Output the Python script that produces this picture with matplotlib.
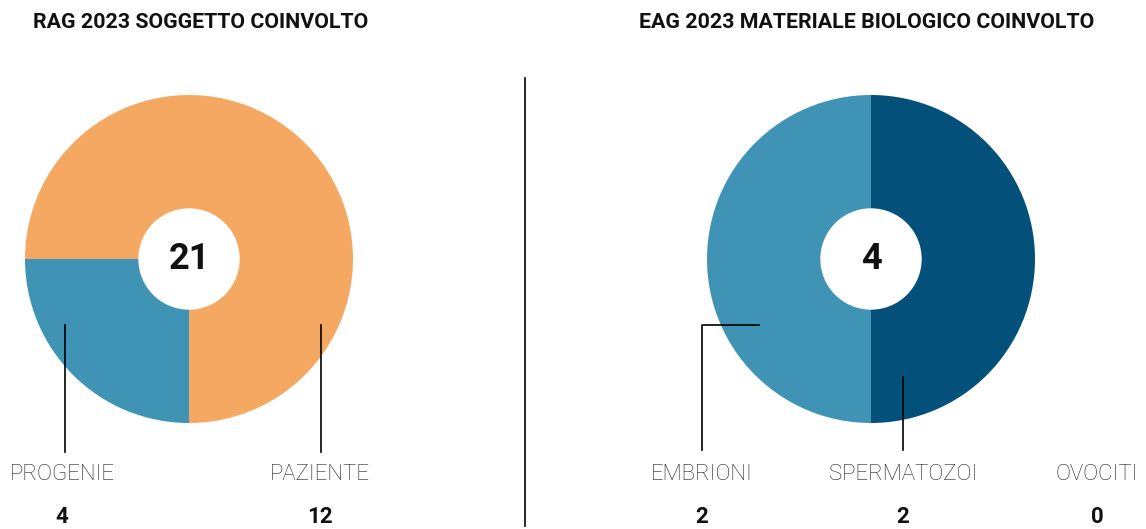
import matplotlib.pyplot as plt
from matplotlib.patches import Circle

# RAG: soggetto coinvolto
rag_labels = ["PROGENIE", "PAZIENTE"]
rag_values = [4, 12]
rag_total = 21

# EAG: materiale biologico coinvolto
eag_labels = ["EMBRIONI", "SPERMATOZOI", "OVOCITI"]
eag_values = [2, 2, 0]
eag_total = 4

ORANGE = "#f4a862"
LIGHT_BLUE = "#3f93b4"
DARK_BLUE = "#03517a"

W, H = 1146, 529
fig = plt.figure(figsize=(W / 100, H / 100), dpi=100)
ax = fig.add_axes([0, 0, 1, 1])


def py(y):
    # pixel row (top-down) to data y (bottom-up)
    return H - y


title_font = dict(family=["Roboto", "DejaVu Sans"], fontweight="bold",
                  fontsize=15.4, color="#111111", ha="center", va="center")
label_font = dict(family=["Roboto", "DejaVu Sans"], fontweight="light", fontsize=16,
                  color="#222222", ha="center", va="center")
num_font = dict(family=["Roboto", "DejaVu Sans"], fontweight="bold", fontsize=16,
                color="#111111", ha="center", va="center")


def donut(cx, cy, values, colors, startangle, total):
    vals = [v for v in values if v > 0]
    cols = [c for v, c in zip(values, colors) if v > 0]
    ax.pie(vals, colors=cols, startangle=startangle, counterclock=True,
           center=(cx, py(cy)), radius=164, wedgeprops=dict(linewidth=0))
    ax.add_patch(Circle((cx, py(cy)), 50, color="white", zorder=5))
    ax.text(cx, py(cy), str(total), zorder=6, family=["Roboto", "DejaVu Sans"],
            fontweight="bold", fontsize=26, color="#111111", ha="center", va="center")


# left chart
ax.text(201, py(23), "RAG 2023 SOGGETTO COINVOLTO", **title_font)
donut(189, 259, rag_values, [LIGHT_BLUE, ORANGE], 180, rag_total)
for x, lab, val in zip([62, 320], rag_labels, rag_values):
    ax.text(x, py(475), lab, **label_font)
    ax.text(x, py(517), str(val), **num_font)
ax.plot([65, 65], [py(325), py(452)], color="black", lw=1.2, zorder=7)
ax.plot([321, 321], [py(325), py(452)], color="black", lw=1.2, zorder=7)

# divider
ax.plot([525, 525], [py(78), py(526)], color="black", lw=1.2)

# right chart
ax.text(867, py(23), "EAG 2023 MATERIALE BIOLOGICO COINVOLTO", **title_font)
donut(871, 259, eag_values, [LIGHT_BLUE, DARK_BLUE, "#cccccc"], 90, eag_total)
for x, lab, val in zip([702, 903, 1097], eag_labels, eag_values):
    ax.text(x, py(475), lab, **label_font)
    ax.text(x, py(517), str(val), **num_font)
ax.plot([759, 702, 702], [py(325), py(325), py(450)], color="black", lw=1.2, zorder=7)
ax.plot([903, 903], [py(377), py(450)], color="black", lw=1.2, zorder=7)

ax.set_xlim(0, W)
ax.set_ylim(0, H)
ax.set_aspect("auto")
ax.axis("off")

fig.savefig("out.png", dpi=100, facecolor="white")
